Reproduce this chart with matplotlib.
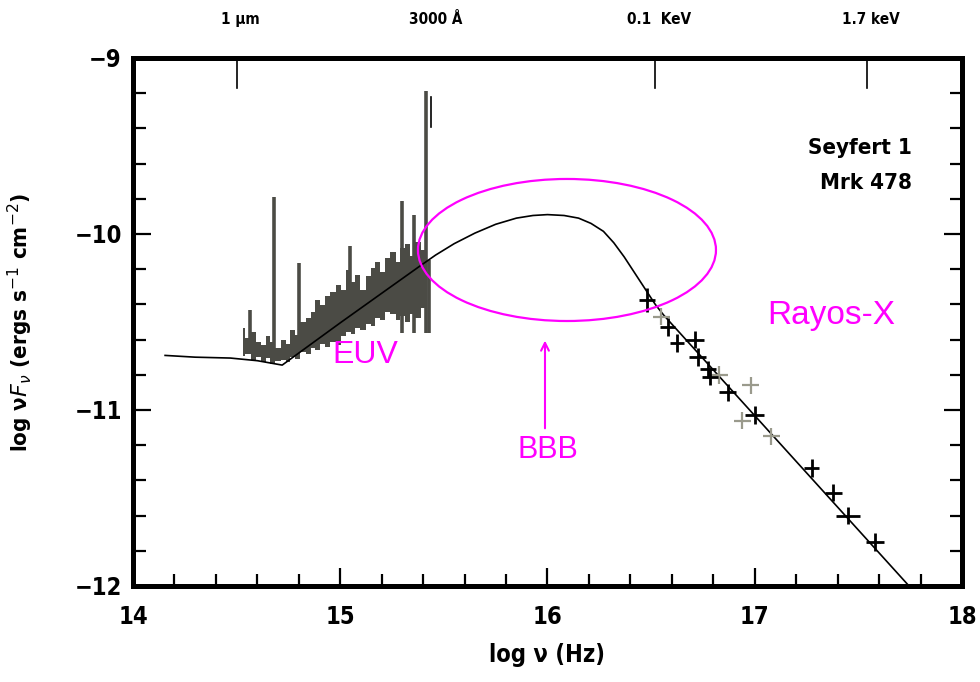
import matplotlib
matplotlib.use('Agg')
from matplotlib import pyplot as plt
from matplotlib.patches import Ellipse
from matplotlib.ticker import MultipleLocator

# continuum model (log nu, log nuFnu)
cont_x = [14.155, 14.30, 14.47, 14.60, 14.72, 15.00, 15.20, 15.38, 15.46, 15.55,
          15.65, 15.75, 15.85, 15.93, 16.00, 16.08, 16.15, 16.21, 16.27, 16.32,
          16.37, 16.42, 16.47, 16.52, 16.56, 17.74]
cont_y = [-10.69, -10.70, -10.705, -10.72, -10.745, -10.505, -10.337, -10.186, -10.12, -10.055,
          -9.995, -9.945, -9.91, -9.895, -9.89, -9.895, -9.91, -9.94, -9.985, -10.05,
          -10.13, -10.22, -10.31, -10.40, -10.46, -11.994]

# optical/UV spectrum band: lower and upper envelope per bin
spec_x = [14.53, 14.555, 14.58, 14.605, 14.63, 14.65, 14.675, 14.70, 14.725, 14.75,
          14.77, 14.795, 14.82, 14.845, 14.87, 14.89, 14.915, 14.94, 14.965, 14.99,
          15.015, 15.04, 15.06, 15.085, 15.11, 15.135, 15.16, 15.18, 15.205, 15.23,
          15.255, 15.28, 15.30, 15.325, 15.35, 15.375, 15.40, 15.42]
spec_hi = [-10.534, -10.591, -10.557, -10.614, -10.631, -10.580, -10.614, -10.648, -10.602, -10.625,
           -10.545, -10.574, -10.500, -10.477, -10.443, -10.375, -10.403, -10.352, -10.330, -10.290,
           -10.318, -10.205, -10.273, -10.233, -10.318, -10.239, -10.193, -10.159, -10.216, -10.136,
           -10.102, -10.159, -10.080, -10.057, -10.125, -10.045, -10.091, -10.136]
spec_lo = [-10.693, -10.682, -10.716, -10.699, -10.727, -10.705, -10.739, -10.722, -10.716, -10.727,
           -10.699, -10.710, -10.670, -10.682, -10.648, -10.659, -10.625, -10.642, -10.614, -10.631,
           -10.580, -10.557, -10.568, -10.534, -10.545, -10.511, -10.523, -10.477, -10.489, -10.443,
           -10.455, -10.489, -10.466, -10.500, -10.455, -10.477, -10.420, -10.545]

# emission lines
line_x = [14.565, 14.68, 14.80, 15.045, 15.30, 15.355, 15.415, 15.428]
line_top = [-10.43, -9.79, -10.165, -10.07, -9.81, -9.89, -9.19, -10.15]
line_bot = [-10.60, -10.65, -10.60, -10.45, -10.56, -10.56, -10.56, -10.56]

# X-ray points
xr_x = [16.48, 16.58, 16.625, 16.71, 16.725, 16.775, 16.785, 16.87, 17.00, 17.275, 17.38, 17.45, 17.58]
xr_y = [-10.375, -10.53, -10.62, -10.60, -10.70, -10.77, -10.81, -10.90, -11.03, -11.33, -11.47, -11.60, -11.75]
xr_dx = [0.04, 0.035, 0.035, 0.045, 0.04, 0.04, 0.04, 0.04, 0.045, 0.035, 0.04, 0.06, 0.045]
xr_dy = [0.07, 0.05, 0.05, 0.05, 0.05, 0.05, 0.05, 0.05, 0.05, 0.05, 0.05, 0.05, 0.05]
xr_grey_x = [16.55, 16.83, 16.94, 16.98, 17.08]
xr_grey_y = [-10.47, -10.80, -11.06, -10.86, -11.15]

# energy/wavelength marks along the top
top_x = [14.50, 15.44, 16.52, 17.54]
top_lab = ['1 μm', '3000 Å', '0.1  KeV', '1.7 keV']

xticks = [14, 15, 16, 17, 18]
yticks = [-12, -11, -10, -9]

MAG = '#ff00ff'
SPEC = '#4b4b45'
bold = dict(family='DejaVu Sans', fontweight='bold', fontstretch='condensed')

fig = plt.figure(figsize=(9.8, 6.82), dpi=100)
ax = fig.add_axes([0.1357, 0.1408, 0.8459, 0.7742])
ax.set_xlim(14, 18)
ax.set_ylim(-12, -9)

ax.fill_between(spec_x, spec_lo, spec_hi, step='mid', color=SPEC, lw=0, zorder=2)
ax.vlines(line_x, line_bot, line_top, color=SPEC, lw=2.6, zorder=2)

ax.plot(cont_x, cont_y, color='black', lw=1.2, zorder=3)

ax.errorbar(xr_grey_x, xr_grey_y, xerr=0.04, yerr=0.05, fmt='none',
            ecolor='#9a9a8c', elinewidth=1.6, zorder=3)
ax.errorbar(xr_x, xr_y, xerr=xr_dx, yerr=xr_dy, fmt='none',
            ecolor='black', elinewidth=2.0, zorder=4)

ax.add_patch(Ellipse((16.094, -10.091), 1.438, 0.807, fill=False,
                     edgecolor=MAG, lw=1.6, zorder=5))
ax.annotate('', xy=(15.988, -10.59), xytext=(15.988, -11.12),
            arrowprops=dict(arrowstyle='->', color=MAG, lw=1.5, mutation_scale=14))

ax.text(15.12, -10.69, 'EUV', color=MAG, fontsize=23, ha='center', va='center',
        family='Liberation Sans')
ax.text(16.0, -11.23, 'BBB', color=MAG, fontsize=22, ha='center', va='center',
        family='Liberation Sans')
ax.text(17.37, -10.465, 'Rayos-X', color=MAG, fontsize=24, ha='center', va='center',
        family='Liberation Sans')

ax.text(17.76, -9.51, 'Seyfert 1', ha='right', va='center', fontsize=16, **bold)
ax.text(17.76, -9.71, 'Mrk 478', ha='right', va='center', fontsize=16, **bold)

# marks hanging from the top spine
for x, lab in zip(top_x, top_lab):
    y0 = -9.22 if lab.startswith('3000') else -9.0
    ax.plot([x, x], [y0, y0 - 0.17], color='black', lw=1.2, zorder=3, clip_on=False)
    ax.text(x + 0.02, 1.072, lab, transform=ax.get_xaxis_transform(),
            ha='center', va='center', fontsize=11, **bold)

ax.set_xticks(xticks)
ax.set_yticks(yticks)
ax.set_xticklabels([str(v) for v in xticks], fontsize=17, **bold)
ax.set_yticklabels(['\u2212' + str(-v) for v in yticks], fontsize=17, **bold)
ax.xaxis.set_minor_locator(MultipleLocator(0.2))
ax.yaxis.set_minor_locator(MultipleLocator(0.2))
ax.tick_params(axis='x', which='both', direction='in', top=False, bottom=True, width=1.6)
ax.tick_params(axis='y', which='both', direction='in', left=True, right=True, width=1.6)
ax.tick_params(which='major', length=13)
ax.tick_params(which='minor', length=9)
ax.tick_params(axis='x', which='major', pad=14)
ax.tick_params(axis='y', which='major', pad=8)

for sp in ax.spines.values():
    sp.set_linewidth(3.6)

ax.set_xlabel('log ν (Hz)', fontsize=17, labelpad=10, **bold)
ax.set_ylabel(r'log ν$\mathit{F}_{ν}$ (ergs s$^{-1}$ cm$^{-2}$)', fontsize=16, labelpad=28, **bold)

fig.savefig('out.png', dpi=100)
